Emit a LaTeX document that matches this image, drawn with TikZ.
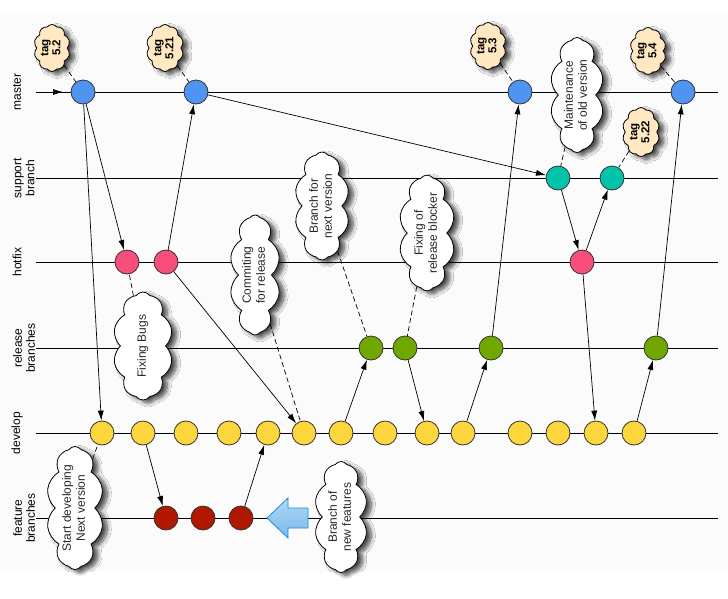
\documentclass[tikz,border=0pt]{standalone}
\usepackage{fontspec}
\setmainfont{Liberation Sans}
\usetikzlibrary{arrows.meta,shapes.symbols,shadows.blur}

\definecolor{cblue}{RGB}{79,148,240}
\definecolor{cteal}{RGB}{0,196,168}
\definecolor{cpink}{RGB}{246,79,122}
\definecolor{cgreen}{RGB}{112,168,0}
\definecolor{cyellow}{RGB}{252,214,60}
\definecolor{cred}{RGB}{176,24,0}
\definecolor{ctag}{RGB}{255,232,194}
\definecolor{cbarrow}{RGB}{30,140,220}
\definecolor{cbgfill}{RGB}{251,251,251}
\definecolor{ctext}{RGB}{40,40,40}

\newcommand{\cloudtext}[1]{\rotatebox{90}{\begin{tabular}{@{}c@{}}#1\end{tabular}}}

\begin{document}
\begin{tikzpicture}[x=1pt,y=-1pt,
 commit/.style={circle,draw=black!80,line width=0.8pt,minimum size=24pt,inner sep=0pt},
 lane/.style={line width=0.9pt},
 arr/.style={line width=0.7pt,-{Latex[length=10pt,width=6pt]}},
 note/.style={cloud,draw,line width=0.8pt,fill=white,cloud ignores aspect,cloud puffs=10,
   cloud puff arc=110,text=ctext,
   inner sep=0pt,font=\fontsize{12}{14}\selectfont,
   blur shadow={shadow xshift=5pt,shadow yshift=-3pt,shadow blur steps=8,
     shadow blur radius=4pt,shadow opacity=70}},
 tagnote/.style={note,fill=ctag,cloud puffs=10,minimum width=33pt,minimum height=47pt,
   text=black,font=\bfseries\fontsize{11.5}{12}\selectfont},
 lanelabel/.style={rotate=90,align=center,font=\fontsize{12}{13}\selectfont,inner sep=0pt},
 conn/.style={line width=0.7pt,dash pattern=on 5pt off 3pt}
]
\useasboundingbox (0,0) rectangle (728,598);
\fill[cbgfill] (0,13) rectangle (728,572);

% lane labels
\node[lanelabel] (lm) at (17,92) {master};
\node[lanelabel] (ls) at (24,178) {support\\branch};
\node[lanelabel] (lh) at (17,262) {hotfix};
\node[lanelabel] (lr) at (24,348) {release\\branches};
\node[lanelabel] (ld) at (17,433) {develop};
\node[lanelabel] (lf) at (24,518) {feature\\branches};

% lane lines
\foreach \n/\y in {M/92,S/178,H/262,R/348,D/433,F/518}{
  \coordinate (\n s) at (36,\y);
  \coordinate (\n e) at (718,\y);
  \draw[lane] (\n s) -- (\n e);
}
\coordinate (mtip) at (63,92);
\draw[arr] (Ms) -- (mtip);

% commits
\node[commit,fill=cblue] (m1) at (83,92) {};
\node[commit,fill=cblue] (m2) at (196,92) {};
\node[commit,fill=cblue] (m3) at (520,92) {};
\node[commit,fill=cblue] (m4) at (683,92) {};
\node[commit,fill=cteal] (s1) at (558,178) {};
\node[commit,fill=cteal] (s2) at (612,178) {};
\node[commit,fill=cpink] (h1) at (127,262) {};
\node[commit,fill=cpink] (h2) at (166,262) {};
\node[commit,fill=cpink] (h3) at (582,262) {};
\node[commit,fill=cgreen] (r1) at (371,348) {};
\node[commit,fill=cgreen] (r2) at (405,348) {};
\node[commit,fill=cgreen] (r3) at (491,348) {};
\node[commit,fill=cgreen] (r4) at (656,348) {};
\foreach \i/\x in {1/102,2/143,3/186,4/229,5/268,6/304,7/341,8/385,9/427,10/463,11/520,12/558,13/596,14/634}{
  \node[commit,fill=cyellow] (d\i) at (\x,433) {};
}
\node[commit,fill=cred] (f1) at (166,518) {};
\node[commit,fill=cred] (f2) at (203,518) {};
\node[commit,fill=cred] (f3) at (241,518) {};

% merges / branches
\draw[arr] (m1) -- (d1);
\draw[arr] (m1) -- (h1);
\draw[arr] (h2) -- (m2);
\draw[arr] (m2) -- (s1);
\draw[arr] (h2) -- (d6);
\draw[arr] (d2) -- (f1);
\draw[arr] (f3) -- (d5);
\draw[arr] (d7) -- (r1);
\draw[arr] (r2) -- (d9);
\draw[arr] (d10) -- (r3);
\draw[arr] (r3) -- (m3);
\draw[arr] (s1) -- (h3);
\draw[arr] (h3) -- (s2);
\draw[arr] (h3) -- (d13);
\draw[arr] (d14) -- (r4);
\draw[arr] (r4) -- (m4);

% clouds
\node[tagnote] (t52) at (52,48) {\cloudtext{tag\\5.2}};
\node[tagnote] (t521) at (165,48) {\cloudtext{tag\\5.21}};
\node[tagnote] (t53) at (488,46) {\cloudtext{tag\\5.3}};
\node[tagnote] (t54) at (648,51) {\cloudtext{tag\\5.4}};
\node[tagnote,minimum height=49pt,minimum width=32pt] (t522) at (641,132) {\cloudtext{tag\\5.22}};
\node[note,minimum height=115pt,minimum width=39pt] (cmaint) at (577,95) {\cloudtext{Maintenance\\of old version}};
\node[note,minimum height=108pt,minimum width=55pt] (cbnext) at (322,206) {\cloudtext{Branch for\\next version}};
\node[note,minimum height=107pt,minimum width=53pt] (cfixrel) at (427,233) {\cloudtext{Fixing of\\release blocker}};
\node[note,minimum height=120pt,minimum width=36pt] (ccommit) at (255,275) {\cloudtext{Commiting\\for release}};
\node[note,minimum height=108pt,minimum width=60pt] (cbugs) at (143,346) {\cloudtext{Fixing Bugs}};
\node[note,minimum height=110pt,minimum width=40pt] (cstart) at (75,508) {\cloudtext{Start developing\\Next version}};
\node[note,minimum height=111pt,minimum width=38pt] (cbnew) at (341,517) {\cloudtext{Branch of\\new features}};

% dashed connectors
\draw[conn] (t52) -- (m1);
\draw[conn] (t521) -- (m2);
\draw[conn] (t53) -- (m3);
\draw[conn] (t54) -- (m4);
\draw[conn] (t522) -- (s2);
\draw[conn] (cmaint) -- (s1);
\draw[conn] (cbnext) -- (r1);
\draw[conn] (cfixrel) -- (r2);
\draw[conn] (ccommit) -- (d6);
\draw[conn] (cbugs) -- (h1);
\draw[conn] (cstart) -- (d1);

% big blue arrow
\draw[draw=cbarrow,line width=0.8pt,top color=cbarrow!35,bottom color=cbarrow!60,line join=miter]
  (267,518) -- (288,498) -- (288,508) -- (308,508) -- (308,528) -- (288,528) -- (288,538) -- cycle;
\end{tikzpicture}
\end{document}
